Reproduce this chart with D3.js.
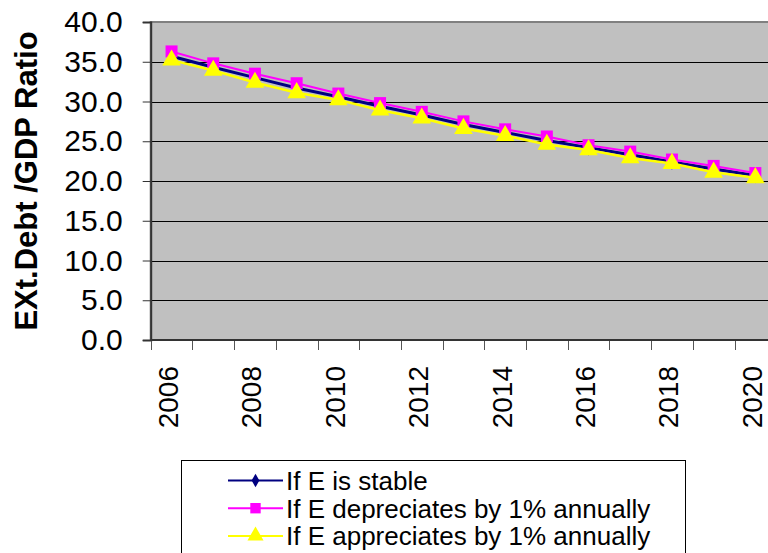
<!DOCTYPE html>
<html>
<head>
<meta charset="utf-8">
<script src="https://cdn.jsdelivr.net/npm/d3@7"></script>
<style>
  html, body { margin: 0; padding: 0; background: #fff; }
  svg { display: block; }
  text { font-family: "Liberation Sans", Arial, sans-serif; fill: #000; }
</style>
</head>
<body>
<svg id="chart" width="768" height="553"></svg>
<script>
// Years on the category axis
const years = [2006, 2007, 2008, 2009, 2010, 2011, 2012, 2013, 2014, 2015, 2016, 2017, 2018, 2019, 2020];
// External debt / GDP ratio under three exchange-rate scenarios
const stable      = [35.7, 34.3, 33.0, 31.7, 30.6, 29.4, 28.3, 27.1, 26.1, 25.1, 24.2, 23.3, 22.4, 21.5, 20.7];
const depreciates = [36.3, 34.8, 33.5, 32.3, 31.0, 29.8, 28.7, 27.5, 26.5, 25.6, 24.5, 23.7, 22.7, 21.9, 21.0];
const appreciates = [35.2, 33.9, 32.4, 31.1, 30.2, 28.9, 27.9, 26.6, 25.7, 24.6, 23.9, 22.9, 22.2, 21.1, 20.4];
const yTicks = [0, 5, 10, 15, 20, 25, 30, 35, 40];
const xLabelYears = [2006, 2008, 2010, 2012, 2014, 2016, 2018, 2020];
const seriesNames = ["If E is stable", "If E depreciates by 1% annually", "If E appreciates by 1% annually"];

const svg = d3.select("#chart");

const plot = { left: 150.7, right: 776.2, top: 22, bottom: 340 };

const x = d3.scaleBand().domain(years).range([plot.left, plot.right]).padding(0);
const y = d3.scaleLinear().domain([0, 40]).range([plot.bottom, plot.top]);

// Plot background
svg.append("rect")
  .attr("x", plot.left).attr("y", plot.top)
  .attr("width", plot.right - plot.left).attr("height", plot.bottom - plot.top)
  .attr("fill", "#c0c0c0")
  .attr("stroke", "#808080").attr("stroke-width", 2);

// Horizontal gridlines
svg.append("g").selectAll("line")
  .data(yTicks.filter(d => d > 0 && d < 40))
  .join("line")
  .attr("x1", plot.left).attr("x2", plot.right)
  .attr("y1", d => Math.round(y(d)) + 0.5).attr("y2", d => Math.round(y(d)) + 0.5)
  .attr("stroke", "#000").attr("stroke-width", 1);

// Y axis
const yAxis = d3.axisLeft(y).tickValues(yTicks).tickSize(8).tickPadding(20)
  .tickFormat(d3.format(".1f"));
const gy = svg.append("g").attr("transform", `translate(${plot.left},0)`).call(yAxis);
gy.select(".domain").attr("stroke", "#333").attr("stroke-width", 2);
gy.selectAll(".tick line").attr("stroke", "#333");
gy.selectAll(".tick text")
  .style("font-size", "30px")
  .style("font-family", "'Liberation Sans', Arial, sans-serif")
  .attr("fill", "#000");

// X axis: tick marks at category boundaries
const boundaries = years.map(d => x(d));
svg.append("g").selectAll("line")
  .data(boundaries)
  .join("line")
  .attr("x1", d => Math.round(d) + 0.5).attr("x2", d => Math.round(d) + 0.5)
  .attr("y1", plot.bottom).attr("y2", plot.bottom + 10)
  .attr("stroke", "#555").attr("stroke-width", 1);
svg.append("line")
  .attr("x1", plot.left).attr("x2", plot.right)
  .attr("y1", plot.bottom).attr("y2", plot.bottom)
  .attr("stroke", "#333").attr("stroke-width", 2);

// Rotated year labels
svg.append("g").selectAll("text")
  .data(xLabelYears)
  .join("text")
  .attr("transform", d => `translate(${x(d) + x.bandwidth() / 2 - 2},366) rotate(-90)`)
  .attr("text-anchor", "end")
  .attr("dy", "0.3em")
  .style("font-size", "28px")
  .text(d => d);

// Y axis title
svg.append("text")
  .attr("transform", `translate(37,181) rotate(-90)`)
  .attr("text-anchor", "middle")
  .style("font-size", "31px")
  .style("font-weight", "bold")
  .text("EXt.Debt /GDP Ratio");

// Series
const cx = d => x(d) + x.bandwidth() / 2;
const series = [
  { name: seriesNames[0], values: stable,      color: "#000080", width: 3,   marker: d3.symbolDiamond,  size: 70 },
  { name: seriesNames[1], values: depreciates, color: "#ff00ff", width: 2,   marker: d3.symbolSquare,   size: 144 },
  { name: seriesNames[2], values: appreciates, color: "#ffff00", width: 2.5, marker: d3.symbolTriangle, size: 150 }
];

const line = d3.line().x((d, i) => cx(years[i])).y(d => y(d));

series.forEach(s => {
  const g = svg.append("g");
  g.append("path")
    .attr("d", line(s.values))
    .attr("fill", "none")
    .attr("stroke", s.color)
    .attr("stroke-width", s.width);
  g.selectAll("path.mk")
    .data(s.values)
    .join("path")
    .attr("class", "mk")
    .attr("transform", (d, i) => `translate(${cx(years[i])},${y(d)})`)
    .attr("d", d3.symbol().type(s.marker).size(s.size))
    .attr("fill", s.color);
});

// Legend
const lg = svg.append("g");
lg.append("rect")
  .attr("x", 181.5).attr("y", 460.5)
  .attr("width", 504).attr("height", 110)
  .attr("fill", "#fff").attr("stroke", "#000").attr("stroke-width", 1);

series.forEach((s, i) => {
  const ly = 480.5 + i * 27.7;
  lg.append("line")
    .attr("x1", 228).attr("x2", 283)
    .attr("y1", ly).attr("y2", ly)
    .attr("stroke", s.color).attr("stroke-width", 2);
  lg.append("path")
    .attr("transform", `translate(255.5,${ly})`)
    .attr("d", d3.symbol().type(s.marker).size(s.size * 0.75))
    .attr("fill", s.color);
  lg.append("text")
    .attr("x", 286).attr("y", ly)
    .attr("dy", "0.36em")
    .style("font-size", "26px")
    .text(s.name);
});
</script>
</body>
</html>
